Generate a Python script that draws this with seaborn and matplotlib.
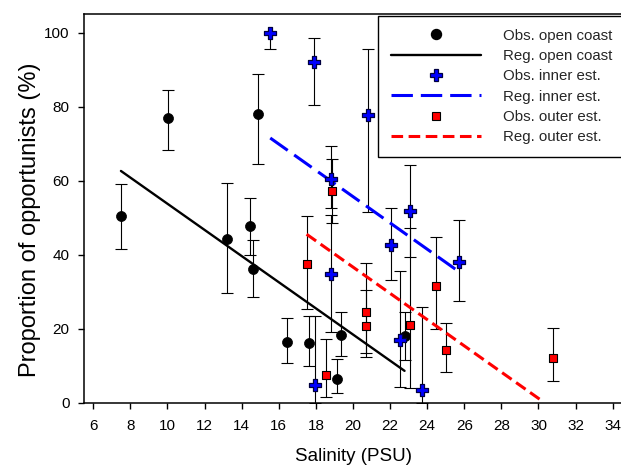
import matplotlib
matplotlib.use("Agg")
import matplotlib.pyplot as plt
import seaborn as sns
import pandas as pd
from matplotlib.lines import Line2D

sns.set_theme(style="ticks")
plt.rcParams["font.family"] = ["Liberation Sans", "DejaVu Sans"]

# Observations, open coast: salinity, proportion, lower / upper error
coast_sal = [7.49, 10.01, 13.19, 14.46, 14.63, 14.86, 16.46, 17.63, 19.15, 19.35, 22.80]
coast_pct = [50.3, 77.0, 44.2, 47.7, 36.2, 77.9, 16.3, 16.2, 6.5, 18.3, 18.0]
coast_lo = [8.8, 8.8, 14.5, 7.8, 7.6, 13.3, 5.6, 6.2, 4.0, 5.7, 6.5]
coast_hi = [8.8, 7.4, 15.1, 7.5, 7.8, 10.8, 6.5, 7.3, 5.3, 6.2, 6.6]

# Observations, inner estuaries
inner_sal = [15.54, 17.88, 17.95, 18.80, 18.80, 20.79, 22.07, 22.52, 23.09, 23.73, 25.71]
inner_pct = [99.8, 91.9, 4.8, 60.4, 34.8, 77.7, 42.5, 17.0, 51.8, 3.5, 37.9]
inner_lo = [4.3, 11.6, 4.8, 7.9, 15.8, 26.3, 9.3, 12.8, 12.5, 3.5, 10.4]
inner_hi = [0.2, 6.7, 18.6, 9.0, 15.9, 17.9, 10.0, 18.5, 12.4, 22.3, 11.5]

# Observations, outer estuaries
outer_sal = [17.54, 18.55, 18.85, 20.68, 20.68, 23.09, 24.49, 25.03, 30.80]
outer_pct = [37.5, 7.5, 57.3, 24.4, 20.8, 20.9, 31.6, 14.2, 12.0]
outer_lo = [12.2, 6.0, 8.7, 12.1, 7.4, 17.0, 11.8, 6.0, 6.1]
outer_hi = [13.0, 9.7, 8.6, 13.4, 9.7, 26.2, 13.1, 7.4, 8.1]

# Fitted regression lines (end points)
reg_coast_sal = [7.49, 22.78]
reg_coast_pct = [62.6, 8.6]
reg_inner_sal = [15.54, 25.71]
reg_inner_pct = [71.5, 35.4]
reg_outer_sal = [17.5, 30.3]
reg_outer_pct = [45.5, 0.1]

x_ticks = list(range(6, 35, 2))
y_ticks = list(range(0, 101, 20))

coast = pd.DataFrame({"sal": coast_sal, "pct": coast_pct})
inner = pd.DataFrame({"sal": inner_sal, "pct": inner_pct})
outer = pd.DataFrame({"sal": outer_sal, "pct": outer_pct})

fig = plt.figure(figsize=(6.21, 4.65), dpi=100)
ax = fig.add_axes([0.1353, 0.134, 0.8692, 0.8359])

# error bars
for df, lo, hi in [(coast, coast_lo, coast_hi), (inner, inner_lo, inner_hi), (outer, outer_lo, outer_hi)]:
    ax.errorbar(df["sal"], df["pct"], yerr=[lo, hi], fmt="none", ecolor="black",
                elinewidth=0.8, capsize=4, capthick=0.8, zorder=1.5)

# regression lines
sns.lineplot(x=reg_coast_sal, y=reg_coast_pct, ax=ax, color="black", lw=1.7,
             sort=False, errorbar=None, zorder=2)
sns.lineplot(x=reg_inner_sal, y=reg_inner_pct, ax=ax, color="#0000FF", lw=2.2,
             sort=False, errorbar=None, zorder=2)
ax.lines[-1].set_dashes((7, 2.6))
sns.lineplot(x=reg_outer_sal, y=reg_outer_pct, ax=ax, color="#FF0000", lw=2.2,
             sort=False, errorbar=None, zorder=2)
ax.lines[-1].set_dashes((3.8, 1.8))

# observation markers
sns.scatterplot(data=coast, x="sal", y="pct", ax=ax, marker="o", s=52,
                color="black", edgecolor="black", linewidth=0.5, zorder=4, legend=False)
sns.scatterplot(data=inner, x="sal", y="pct", ax=ax, marker="P", s=80,
                color="#0000FF", edgecolor="#000040", linewidth=0.9, zorder=4, legend=False)
sns.scatterplot(data=outer, x="sal", y="pct", ax=ax, marker="s", s=40,
                color="#FF0000", edgecolor="black", linewidth=0.8, zorder=4, legend=False)

ax.set_xlim(5.5, 34.6)
ax.set_ylim(0, 105)
ax.set_xticks(x_ticks)
ax.set_yticks(y_ticks)
ax.tick_params(axis="both", direction="out", length=4.5, width=1, color="black",
               labelsize=11, labelcolor="black")
ax.tick_params(axis="x", pad=7)
ax.tick_params(axis="y", pad=6)
for sp in ax.spines.values():
    sp.set_visible(True)
    sp.set_color("black")
    sp.set_linewidth(1.1)

ax.set_xlabel("Salinity (PSU)", fontsize=13.5, labelpad=11, color="black")
ax.set_ylabel("Proportion of opportunists (%)", fontsize=17, color="black")
ax.yaxis.set_label_coords(-0.08, 0.47)

handles = [
    Line2D([], [], ls="none", marker="o", ms=7.2, mfc="black", mec="black"),
    Line2D([], [], color="black", lw=1.7),
    Line2D([], [], ls="none", marker="P", ms=9, mfc="#0000FF", mec="#000040", mew=0.9),
    Line2D([], [], color="#0000FF", lw=2.2, dashes=(7, 2.6)),
    Line2D([], [], ls="none", marker="s", ms=6, mfc="#FF0000", mec="black", mew=0.8),
    Line2D([], [], color="#FF0000", lw=2.2, dashes=(3.8, 1.8)),
]
labels = ["Obs. open coast", "Reg. open coast", "Obs. inner est.",
          "Reg. inner est.", "Obs. outer est.", "Reg. outer est."]
leg = ax.legend(handles, labels, loc="upper left", bbox_to_anchor=(0.5447, 0.9949),
                fontsize=10.8, handlelength=6.0, handletextpad=1.45, borderpad=0.85,
                labelspacing=0.42, fancybox=False, framealpha=1, edgecolor="black",
                borderaxespad=0)
leg.get_frame().set_linewidth(1.0)

fig.savefig("out.png", dpi=100)
